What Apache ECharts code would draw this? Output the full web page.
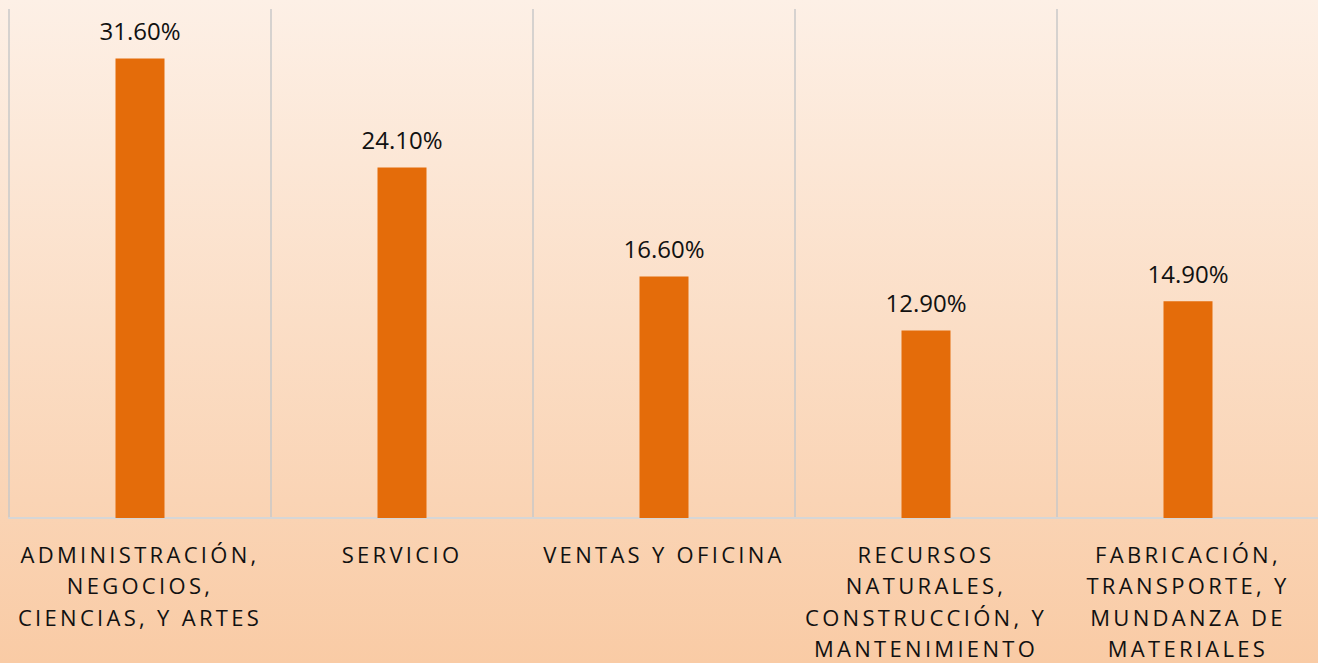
<!DOCTYPE html>
<html>
<head>
<meta charset="utf-8">
<script src="https://cdn.jsdelivr.net/npm/echarts@6/dist/echarts.min.js"></script>
<style>
  html, body { margin: 0; padding: 0; }
  #chart { width: 1318px; height: 663px; }
</style>
</head>
<body>
<div id="chart"></div>
<script>
// categorias (con saltos de linea como en la imagen)
var categories = [
  'ADMINISTRACIÓN,\nNEGOCIOS,\nCIENCIAS, Y ARTES',
  'SERVICIO',
  'VENTAS Y OFICINA',
  'RECURSOS\nNATURALES,\nCONSTRUCCIÓN, Y\nMANTENIMIENTO',
  'FABRICACIÓN,\nTRANSPORTE, Y\nMUNDANZA DE\nMATERIALES'
];
var values = [31.6, 24.1, 16.6, 12.9, 14.9];

var chart = echarts.init(document.getElementById('chart'), null, { renderer: 'svg' });

var option = {
  animation: false,
  backgroundColor: {
    type: 'linear', x: 0, y: 0, x2: 0, y2: 1,
    colorStops: [
      { offset: 0, color: '#fdf0e6' },
      { offset: 1, color: '#f9cba5' }
    ]
  },
  grid: { left: 9, right: -1, top: 9, bottom: 145, outerBoundsMode: 'none' },
  xAxis: {
    type: 'category',
    data: categories,
    axisLine: { lineStyle: { color: '#d6d6d6', width: 2 } },
    axisTick: { show: false },
    splitLine: { show: true, lineStyle: { color: '#c9c9c9', width: 1.5 } },
    axisLabel: {
      interval: 0,
      margin: 20,
      color: '#111',
      fontFamily: 'Open Sans',
      fontSize: 22,
      lineHeight: 31.5
    }
  },
  yAxis: {
    type: 'value',
    min: 0,
    max: 35,
    show: false,
    splitLine: { show: false }
  },
  series: [{
    type: 'bar',
    data: values,
    barWidth: 49,
    itemStyle: { color: '#e46c0a' },
    label: {
      show: true,
      position: 'top',
      distance: 16,
      color: '#111',
      fontFamily: 'Open Sans',
      fontSize: 24,
      formatter: function (p) { return p.value.toFixed(2) + '%'; }
    }
  }]
};

chart.setOption(option);

// espaciado de letras en las etiquetas de categoria
function spaceLabels() {
  var texts = document.querySelectorAll('#chart text');
  for (var i = 0; i < texts.length; i++) {
    if (texts[i].textContent.indexOf('%') < 0) {
      texts[i].style.letterSpacing = '3.3px';
    }
  }
}
chart.on('finished', spaceLabels);
spaceLabels();
</script>
</body>
</html>
